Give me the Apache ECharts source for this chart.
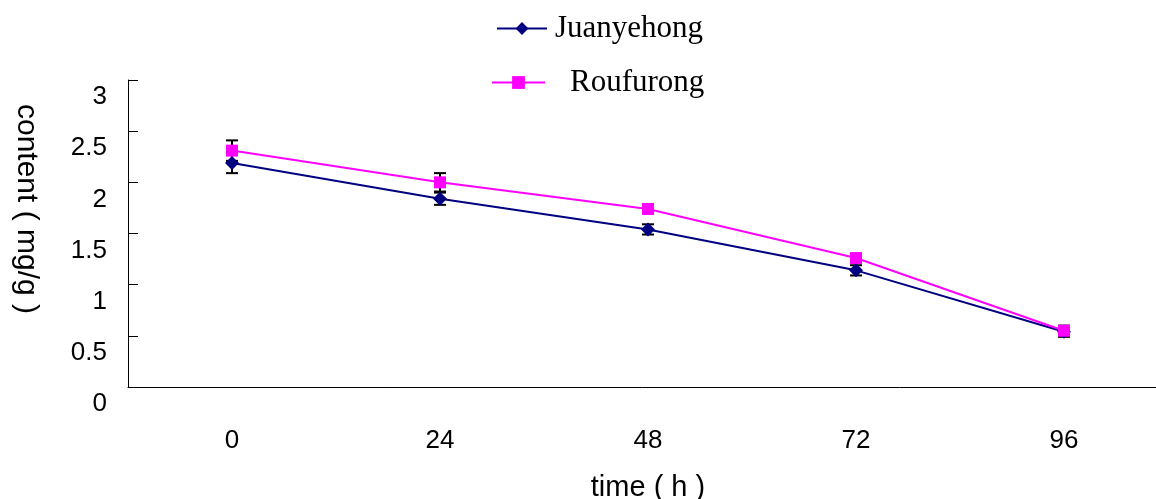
<!DOCTYPE html>
<html>
<head>
<meta charset="utf-8">
<script src="https://cdn.jsdelivr.net/npm/echarts@6/dist/echarts.min.js"></script>
<style>
  html, body { margin: 0; padding: 0; background: #fff; }
  #chart { width: 1156px; height: 499px; }
</style>
</head>
<body>
<div id="chart"></div>
<script>
const categories = ['0', '24', '48', '72', '96'];
const juanyehong = [2.19, 1.84, 1.54, 1.14, 0.54];
const juanyehongErr = [0.10, 0.06, 0.05, 0.05, 0.05];
const roufurong = [2.31, 2.00, 1.74, 1.26, 0.55];
const roufurongErr = [0.10, 0.09, 0.04, 0.04, 0.05];
const yTicks = ['0', '0.5', '1', '1.5', '2', '2.5', '3'];

function errData(vals, errs) {
  return vals.map((v, i) => [i, v - errs[i], v + errs[i]]);
}
function errRender(params, api) {
  const x = api.value(0);
  const lo = api.coord([x, api.value(1)]);
  const hi = api.coord([x, api.value(2)]);
  const hw = 6;
  const st = { stroke: '#000', lineWidth: 2 };
  return {
    type: 'group',
    children: [
      { type: 'line', shape: { x1: hi[0], y1: hi[1], x2: lo[0], y2: lo[1] }, style: st },
      { type: 'line', shape: { x1: hi[0] - hw, y1: hi[1], x2: hi[0] + hw, y2: hi[1] }, style: st },
      { type: 'line', shape: { x1: lo[0] - hw, y1: lo[1], x2: lo[0] + hw, y2: lo[1] }, style: st }
    ]
  };
}

const chart = echarts.init(document.getElementById('chart'), null, { renderer: 'canvas' });
chart.setOption({
  animation: false,
  backgroundColor: '#fff',
  grid: { left: 128, top: 80, width: 1040, height: 307, containLabel: false, outerBoundsMode: 'none' },
  legend: [
    {
      data: ['Juanyehong'], left: 491, top: 8, itemWidth: 50, itemHeight: 16,
      textStyle: { fontFamily: 'Liberation Serif', fontSize: 31, color: '#000', padding: [0, 0, 0, 3] }
    },
    {
      data: ['Roufurong'], left: 486, top: 62, itemWidth: 53, itemHeight: 16,
      textStyle: { fontFamily: 'Liberation Serif', fontSize: 31, color: '#000', padding: [0, 0, 0, 20] }
    }
  ],
  xAxis: {
    type: 'category',
    data: categories,
    boundaryGap: true,
    name: 'time ( h )',
    nameLocation: 'middle',
    nameGap: 86,
    nameTextStyle: { fontFamily: 'Liberation Sans', fontSize: 29, color: '#000' },
    axisLine: { lineStyle: { color: '#000', width: 1 } },
    axisTick: { inside: true, length: 10, lineStyle: { color: '#000' } },
    axisLabel: { margin: 41, fontFamily: 'Liberation Sans', fontSize: 26, color: '#000' },
    splitLine: { show: false }
  },
  yAxis: {
    type: 'value',
    min: 0, max: 3, interval: 0.5,
    axisLine: { show: true, lineStyle: { color: '#000', width: 1 } },
    axisTick: { show: true, inside: true, length: 10, lineStyle: { color: '#000' } },
    axisLabel: {
      margin: 21, fontFamily: 'Liberation Sans', fontSize: 26, color: '#000',
      verticalAlign: 'top', lineHeight: 34,
      formatter: (v) => yTicks[Math.round(v / 0.5)]
    },
    splitLine: { show: false }
  },
  graphic: [
    {
      type: 'text', x: 26, y: 209, rotation: -Math.PI / 2,
      style: {
        text: 'content ( mg/g )', fontFamily: 'Liberation Sans', fontSize: 30, fill: '#000',
        align: 'center', verticalAlign: 'middle'
      }
    }
  ],
  series: [
    {
      type: 'custom', name: 'errJ', renderItem: errRender, data: errData(juanyehong, juanyehongErr), z: 1,
      encode: { x: 0, y: [1, 2] }
    },
    {
      type: 'custom', name: 'errR', renderItem: errRender, data: errData(roufurong, roufurongErr), z: 1,
      encode: { x: 0, y: [1, 2] }
    },
    {
      type: 'line', name: 'Juanyehong', data: juanyehong, z: 3,
      symbol: 'diamond', symbolSize: 14,
      lineStyle: { color: '#000080', width: 2 },
      itemStyle: { color: '#000080' }
    },
    {
      type: 'line', name: 'Roufurong', data: roufurong, z: 4,
      symbol: 'rect', symbolSize: 12,
      lineStyle: { color: '#FF00FF', width: 2 },
      itemStyle: { color: '#FF00FF' }
    }
  ]
});
</script>
</body>
</html>
